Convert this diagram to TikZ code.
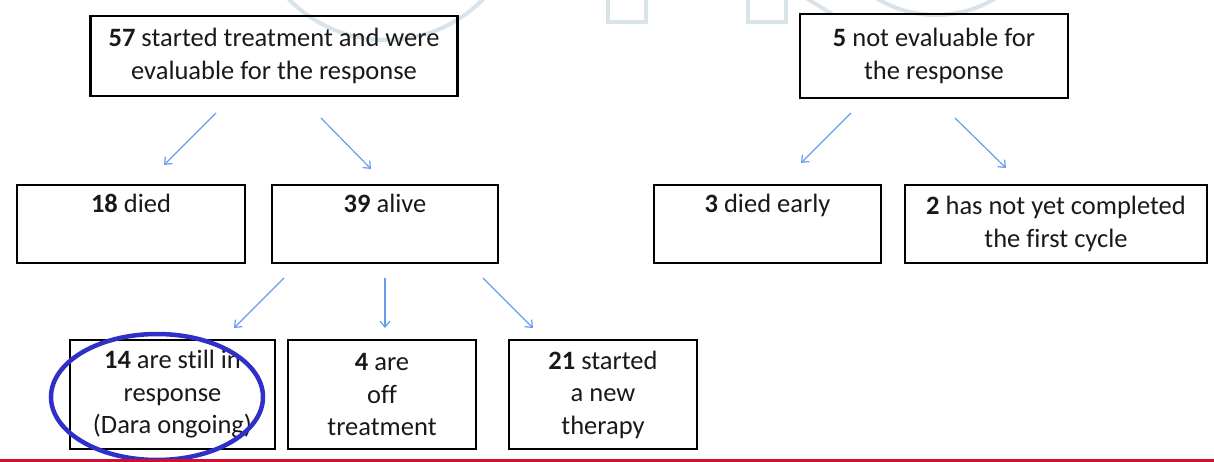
\documentclass[tikz,border=0pt]{standalone}
\usepackage{fontspec}
\setmainfont{Carlito}[Ligatures=CommonOff]
\usetikzlibrary{arrows.meta}
\definecolor{arrowblue}{RGB}{105,155,238}
\definecolor{ringblue}{RGB}{48,48,200}
\definecolor{barred}{RGB}{204,16,46}
\definecolor{wm}{RGB}{216,227,234}
\definecolor{ink}{RGB}{25,25,25}
\begin{document}
\begin{tikzpicture}[x=1pt,y=-1pt,
  box/.style={draw=black, line width=2.2pt, align=center, inner sep=0pt,
    font=\fontsize{26.5}{32.5}\selectfont, text=ink},
  arr/.style={draw=arrowblue, line width=1.2pt, -{Straight Barb[length=6pt,width=10pt]}},
  wmark/.style={draw=wm, line width=4pt},
]
\useasboundingbox (0,0) rectangle (1214,462);
% faint watermark
\begin{scope}
\clip (0,0) rectangle (1214,462);
\draw[wmark] (386,-96) circle [radius=136];
\draw[wmark] (608,-10) rectangle (646,22);
\draw[wmark] (748,-10) rectangle (786,22);
\draw[wmark] (806,-2) -- (832,14);
\draw[wmark] (936,-99) circle [radius=114];
\end{scope}
% boxes
\node[box, minimum width=367pt, minimum height=80pt] (A) at (274,56)
  {\textbf{57} started treatment and were\\evaluable for the response};
\node[box, minimum width=268pt, minimum height=84pt] (B) at (934,56)
  {\textbf{5} not evaluable for\\the response};
\node[box, minimum width=228pt, minimum height=78pt] (died) at (131,224)
  {\textbf{18} died\\\strut};
\node[box, minimum width=226pt, minimum height=78pt] (alive) at (385,224)
  {\textbf{39} alive\\\strut};
\node[box, minimum width=227pt, minimum height=78pt] (early) at (767.5,224)
  {\textbf{3} died early\\\strut};
\node[box, minimum width=302pt, minimum height=78pt] (notyet) at (1056,224)
  {\textbf{2} has not yet completed\\the first cycle};
\node[box, minimum width=205pt, minimum height=109pt] (still) at (172.5,394.5)
  {\textbf{14} are still in\\response\\(Dara ongoing)};
\node[box, minimum width=188pt, minimum height=109pt] (off) at (382,394.5)
  {\textbf{4} are\\off\\treatment};
\node[box, minimum width=188pt, minimum height=109pt] (newth) at (603,394.5)
  {\textbf{21} started\\a new\\therapy};
% arrow end points
\coordinate (a1s) at (216,113); \coordinate (a1e) at (164,165);
\coordinate (a2s) at (321,118); \coordinate (a2e) at (371,169);
\coordinate (b1s) at (851,113); \coordinate (b1e) at (801,163);
\coordinate (b2s) at (955,118); \coordinate (b2e) at (1006,168);
\coordinate (c1s) at (284,278); \coordinate (c1e) at (234,328);
\coordinate (c2s) at (385,278); \coordinate (c2e) at (385,328);
\coordinate (c3s) at (483,278); \coordinate (c3e) at (533,328);
\draw[arr] (a1s) -- (a1e);
\draw[arr] (a2s) -- (a2e);
\draw[arr] (b1s) -- (b1e);
\draw[arr] (b2s) -- (b2e);
\draw[arr] (c1s) -- (c1e);
\draw[arr] (c2s) -- (c2e);
\draw[arr] (c3s) -- (c3e);
% highlight ring
\draw[ringblue, line width=4.5pt] (157,397) ellipse [x radius=106, y radius=63];
% red bar
\fill[barred] (0,459) rectangle (1214,462);
\end{tikzpicture}
\end{document}
